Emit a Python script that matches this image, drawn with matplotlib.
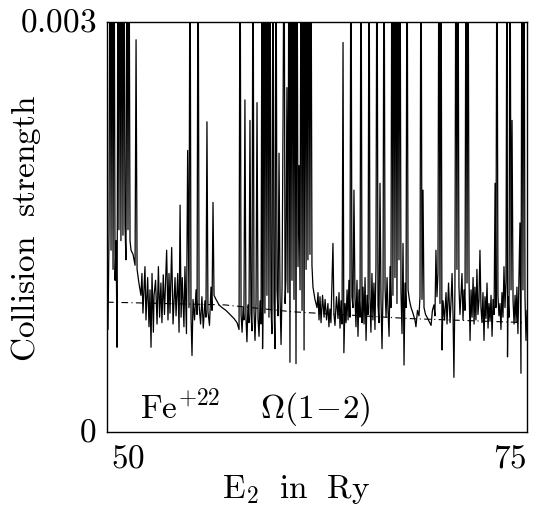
import numpy as np
import matplotlib
matplotlib.use("Agg")
import matplotlib.pyplot as plt

plt.rcParams["mathtext.fontset"] = "cm"
plt.rcParams["font.family"] = ["DejaVu Serif"]

# collision strength Omega(1-2) for Fe+22
# omega in units of 1e-4 ; 40 = resonance running off the top of the frame
energy = [
    50.00, 50.06, 50.12, 50.18, 50.24, 50.30, 50.36, 50.42, 50.48, 50.54,
    50.60, 50.65, 50.71, 50.77, 50.83, 50.89, 50.95, 51.01, 51.07, 51.13,
    51.19, 51.25, 51.31, 51.37, 51.43, 51.55, 51.67, 51.73, 51.79, 51.90,
    52.02, 52.08, 52.14, 52.26, 52.32, 52.42, 52.50, 52.56, 52.62, 52.68,
    52.76, 52.80, 52.89, 52.98, 53.06, 53.13, 53.21, 53.27, 53.35, 53.42,
    53.55, 53.63, 53.69, 53.75, 53.85, 53.93, 54.05, 54.11, 54.21, 54.29,
    54.35, 54.41, 54.48, 54.58, 54.64, 54.73, 54.80, 54.88, 54.94, 55.00,
    55.06, 55.12, 55.21, 55.30, 55.36, 55.42, 55.48, 55.57, 55.65, 55.73,
    55.83, 55.89, 55.95, 56.01, 56.10, 56.19, 56.25, 56.31, 56.37, 56.49,
    56.67, 56.85, 57.08, 57.32, 57.56, 57.74, 57.86,
    57.92, 57.98, 58.04, 58.10, 58.15, 58.21, 58.27, 58.33, 58.39, 58.45,
    58.51, 58.57, 58.63, 58.69, 58.75, 58.81, 58.87, 58.93, 58.99, 59.05,
    59.11, 59.17, 59.23, 59.26, 59.29, 59.35, 59.40, 59.46, 59.52, 59.58,
    59.64, 59.70, 59.76, 59.82, 59.88, 59.94, 60.00, 60.06, 60.12, 60.18,
    60.24, 60.30, 60.36, 60.42, 60.48, 60.54, 60.60, 60.65, 60.71, 60.77,
    60.83, 60.89, 60.95, 61.01, 61.07, 61.13, 61.19, 61.25, 61.31, 61.37,
    61.43, 61.49, 61.55, 61.61, 61.67, 61.73, 61.79, 61.85, 61.90, 61.96,
    62.02, 62.08, 62.14, 62.20,
    62.26, 62.38, 62.50, 62.56, 62.62, 62.68, 62.74, 62.83, 62.92, 62.98,
    63.07, 63.15, 63.21, 63.27, 63.33, 63.45, 63.51, 63.57, 63.66, 63.75,
    63.81, 63.87, 63.93, 63.99, 64.05, 64.10, 64.17, 64.23, 64.29, 64.35,
    64.40, 64.46, 64.52, 64.58, 64.64, 64.70,
    64.76, 64.82, 64.88, 64.94, 65.00, 65.06, 65.12, 65.18, 65.24, 65.30,
    65.36, 65.42, 65.48, 65.54, 65.60, 65.65, 65.71, 65.77, 65.83, 65.89,
    65.95, 66.01, 66.07, 66.13, 66.19, 66.25, 66.31, 66.37, 66.43, 66.49,
    66.55, 66.61, 66.67, 66.73, 66.79, 66.85, 66.90, 66.96, 67.02, 67.08,
    67.14, 67.20, 67.26, 67.32, 67.38, 67.44, 67.50, 67.56, 67.62, 67.68,
    67.74, 67.80, 67.86, 67.92, 68.01, 68.10, 68.21, 68.33, 68.39, 68.48,
    68.57, 68.63, 68.69, 68.75, 68.81, 68.87, 68.96, 69.05, 69.17, 69.29,
    69.37, 69.46, 69.52, 69.58, 69.64, 69.70,
    69.76, 69.82, 69.88, 69.94, 70.00, 70.09, 70.18, 70.24, 70.33, 70.42,
    70.48, 70.54, 70.60, 70.65, 70.71, 70.77, 70.83, 70.89, 70.95, 71.01,
    71.07, 71.13, 71.19, 71.25, 71.31, 71.37, 71.43, 71.49, 71.55, 71.61,
    71.67, 71.73, 71.79, 71.85, 71.90, 71.96, 72.02, 72.08, 72.14, 72.20,
    72.26, 72.32, 72.38, 72.44, 72.50, 72.56, 72.62, 72.68, 72.74, 72.80,
    72.86, 72.92, 72.98, 73.04, 73.10, 73.15, 73.21, 73.27, 73.33, 73.39,
    73.45, 73.51, 73.57, 73.63, 73.69, 73.75, 73.81, 73.84, 73.87, 73.93,
    73.99, 74.05, 74.11, 74.17, 74.23, 74.29, 74.35, 74.40, 74.46, 74.52,
    74.58, 74.64, 74.70, 74.76, 74.82, 74.88, 74.94, 75.00,
]
omega = [
    11.1, 7.5, 14.6, 40, 13.3, 40, 11.9, 40, 11.1, 14.0,
    6.2, 40, 14.8, 40, 14.0, 40, 14.4, 40, 15.1, 12.6,
    40, 14.8, 40, 14.0, 13.3, 13.0, 12.2, 28.7, 11.9, 10.9,
    10.0, 11.6, 8.7, 12.1, 8.2, 11.3, 7.7, 10.4, 6.2, 11.6,
    7.3, 10.0, 11.1, 7.9, 12.1, 8.4, 10.9, 8.0, 11.5, 8.6,
    13.3, 8.2, 11.6, 8.7, 13.5, 7.9, 11.3, 8.5, 11.6, 7.3,
    16.6, 8.4, 11.3, 7.7, 12.1, 7.2, 20.6, 9.1, 40, 8.5,
    5.6, 9.7, 8.2, 10.4, 8.6, 40, 9.3, 7.9, 9.9, 7.6,
    9.6, 8.4, 22.7, 8.8, 7.8, 10.6, 8.9, 16.8, 10.0, 9.7,
    9.3, 9.1, 8.9, 8.6, 8.3, 8.0, 7.5,
    40, 8.6, 7.3, 9.1, 8.2, 24.3, 8.4, 6.6, 9.3, 8.0,
    22.8, 8.7, 7.4, 40, 8.9, 6.7, 9.4, 24.1, 8.3, 7.0,
    9.6, 7.9, 40, 6.1, 9.9, 40, 8.7, 40, 10.0, 40,
    8.4, 40, 9.1, 7.2, 40, 9.6, 6.1, 40, 10.4, 8.5,
    20.4, 9.9, 6.4, 10.6, 23.2, 40, 9.4, 11.1, 25.2, 10.2,
    40, 5.1, 40, 11.1, 40, 9.7, 40, 5.0, 40, 12.1,
    19.5, 10.4, 40, 8.9, 40, 6.0, 40, 11.9, 40, 12.6,
    40, 13.0, 40, 12.2,
    10.6, 9.7, 9.1, 10.2, 8.2, 9.9, 8.0, 10.0, 8.4, 9.7,
    8.2, 9.4, 7.7, 9.0, 8.0, 13.8, 8.6, 7.8, 9.9, 8.3,
    10.2, 7.6, 9.6, 7.9, 28.5, 5.8, 9.4, 8.0, 10.4, 8.2,
    11.1, 8.4, 40, 9.9, 9.1, 17.7,
    9.9, 7.7, 11.1, 7.0, 10.4, 8.4, 40, 8.0, 10.6, 7.9,
    11.3, 6.7, 10.0, 8.6, 40, 9.9, 7.3, 11.6, 8.2, 10.9,
    7.5, 12.1, 40, 9.3, 8.0, 18.2, 9.6, 6.1, 10.4, 40,
    10.6, 8.4, 11.3, 8.8, 7.0, 12.1, 9.1, 40, 10.0, 40,
    11.3, 40, 9.4, 40, 12.6, 40, 10.2, 7.2, 13.8, 4.9,
    10.9, 9.1, 40, 10.4, 9.6, 9.1, 8.7, 8.2, 7.7, 8.9,
    8.5, 9.9, 40, 9.7, 17.7, 9.1, 8.6, 8.4, 8.1, 7.8,
    8.9, 9.3, 8.5, 13.3, 9.9, 11.6,
    40, 9.4, 40, 6.0, 9.6, 8.2, 10.2, 7.9, 10.9, 8.0,
    9.6, 11.6, 8.4, 4.0, 10.4, 40, 11.9, 40, 10.6, 8.6,
    10.0, 11.6, 8.2, 10.4, 8.9, 40, 10.9, 40, 11.1, 6.7,
    10.4, 8.4, 11.3, 7.9, 10.6, 8.2, 11.9, 8.6, 9.6, 13.3,
    9.1, 8.0, 10.2, 6.7, 9.9, 8.3, 10.9, 7.6, 9.4, 8.1,
    10.0, 7.0, 9.7, 8.6, 18.2, 9.1, 40, 10.0, 8.5, 9.4,
    7.5, 10.2, 8.4, 12.1, 9.1, 11.1, 40, 5.5, 9.9, 8.4,
    40, 10.4, 22.8, 9.6, 7.9, 10.0, 8.0, 10.6, 7.2, 11.1,
    15.3, 4.3, 40, 10.4, 40, 9.9, 6.7, 8.9,
]

# smooth (resonance-averaged) background, dash-dot
bg_energy = [50.0, 57.0, 61.0, 68.0, 75.0]
bg_omega = [9.5, 9.3, 8.8, 8.3, 8.0]

W, H = 544, 509
fig = plt.figure(figsize=(W / 100, H / 100), dpi=100)
ax = fig.add_axes([107 / W, 1 - 432 / H, 420 / W, 410 / H])

ax.plot(energy, np.array(omega) * 1e-4, color="black", lw=0.9)
ax.plot(bg_energy, np.array(bg_omega) * 1e-4, color="black", lw=0.8,
        ls=(0, (6, 3, 1, 3)))

ax.set_xlim(50, 75)
ax.set_ylim(0, 0.003)
ax.set_xticks([])
ax.set_yticks([])
for s in ax.spines.values():
    s.set_linewidth(1.0)
    s.set_color("black")

fs = 24
def ftxt(px, py, s, **kw):
    fig.text(px / W, 1 - py / H, s, fontsize=fs, **kw)

ftxt(96, 22, r"$\mathrm{0.003}$", ha="right", va="center")
ftxt(96, 432, r"$\mathrm{0}$", ha="right", va="center")
ftxt(128, 458, r"$\mathrm{50}$", ha="center", va="center")
ftxt(527, 458, r"$\mathrm{75}$", ha="right", va="center")
ftxt(296, 490, r"$\mathrm{E_2\ \ in\ \ Ry}$", ha="center", va="center")
ftxt(26, 228, r"$\mathrm{Collision\ \ strength}$", ha="center", va="center",
     rotation=90)
ftxt(140, 408, r"$\mathrm{Fe^{+22}\quad\ \Omega(1\!-\!2)}$", ha="left",
     va="center")

fig.savefig("out.png", dpi=100, facecolor="white")
